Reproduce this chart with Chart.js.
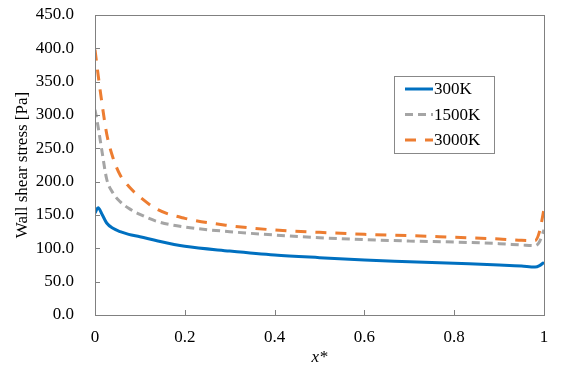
<!DOCTYPE html>
<html>
<head>
<meta charset="utf-8">
<script src="https://cdn.jsdelivr.net/npm/chart.js@4.4.1/dist/chart.umd.min.js"></script>
<style>
  html, body { margin: 0; padding: 0; background: #fff; }
  #wrap { width: 571px; height: 369px; }
</style>
</head>
<body>
<div id="wrap"><canvas id="chart" width="571" height="369"></canvas></div>
<script>
// x* positions shared by all three series
const xStar = [0, 0.007, 0.015, 0.026, 0.04, 0.056, 0.075, 0.1, 0.14, 0.2, 0.3,
    0.4, 0.5, 0.6, 0.7, 0.8, 0.9, 0.95, 0.98, 0.99, 1.0];

// wall shear stress [Pa]
const stress300K = [153, 161, 152, 138, 130, 125, 121, 117.5, 111, 103, 96,
    90, 86, 82.5, 80, 77.5, 75, 73.5, 72, 74, 79];
const stress1500K = [308, 282, 248, 204, 183, 170, 160, 151, 140, 132, 125,
    120, 116, 113, 111, 109.5, 107, 105, 104, 110, 128];
const stress3000K = [398, 360, 320, 272, 236, 210, 193, 177, 158, 145, 134,
    127.5, 124, 121, 119, 116.5, 114, 112, 111.5, 125, 159];

const seriesLabels = ['300K', '1500K', '3000K'];
const xTicks = [0, 0.2, 0.4, 0.6, 0.8, 1];

const FONT = 'Liberation Serif, Times New Roman, serif';
const AXIS = '#808080';

const toPoints = (ys) => xStar.map((x, i) => ({ x, y: ys[i] }));

// frame around the plot, inward tick marks and the boxed legend
const framePlugin = {
    id: 'frame',
    afterDraw(chart) {
        const { ctx, chartArea: a, scales } = chart;
        ctx.save();
        ctx.strokeStyle = AXIS;
        ctx.lineWidth = 1;
        ctx.strokeRect(Math.round(a.left) + 0.5, Math.round(a.top) + 0.5,
            Math.round(a.right - a.left), Math.round(a.bottom - a.top));
        ctx.beginPath();
        scales.y.ticks.forEach((t) => {
            const py = Math.round(scales.y.getPixelForValue(t.value)) + 0.5;
            ctx.moveTo(a.left, py);
            ctx.lineTo(a.left + 5, py);
        });
        xTicks.forEach((v) => {
            const px = Math.round(scales.x.getPixelForValue(v)) + 0.5;
            ctx.moveTo(px, a.bottom);
            ctx.lineTo(px, a.bottom - 5);
        });
        ctx.stroke();

        // legend
        const bx = 394, by = 76, bw = 100, bh = 77;
        ctx.fillStyle = '#fff';
        ctx.fillRect(bx, by, bw, bh);
        ctx.strokeStyle = '#888';
        ctx.strokeRect(bx + 0.5, by + 0.5, bw, bh);
        ctx.font = '17px ' + FONT;
        ctx.textBaseline = 'middle';
        chart.data.datasets.forEach((ds, i) => {
            const ly = 89 + i * 25.5;
            ctx.beginPath();
            ctx.strokeStyle = ds.borderColor;
            ctx.lineWidth = 3;
            ctx.setLineDash(ds.borderDash || []);
            ctx.moveTo(405, ly);
            ctx.lineTo(433, ly);
            ctx.stroke();
            ctx.setLineDash([]);
            ctx.fillStyle = '#000';
            ctx.fillText(ds.label, 434, ly + 1);
        });
        ctx.restore();
    },
};

new Chart(document.getElementById('chart'), {
    type: 'line',
    data: {
        datasets: [
            {
                label: seriesLabels[0],
                data: toPoints(stress300K),
                borderColor: '#0070C0',
                borderWidth: 3,
                cubicInterpolationMode: 'monotone',
            },
            {
                label: seriesLabels[1],
                data: toPoints(stress1500K),
                borderColor: '#A5A5A5',
                borderWidth: 3,
                borderDash: [8, 5],
                cubicInterpolationMode: 'monotone',
            },
            {
                label: seriesLabels[2],
                data: toPoints(stress3000K),
                borderColor: '#ED7D31',
                borderWidth: 3,
                borderDash: [11, 9],
                cubicInterpolationMode: 'monotone',
            },
        ],
    },
    options: {
        responsive: false,
        animation: false,
        devicePixelRatio: 1,
        layout: { padding: { top: 15, right: 27, left: 0, bottom: 0 } },
        elements: { point: { radius: 0 } },
        plugins: { legend: { display: false }, tooltip: { enabled: false } },
        scales: {
            x: {
                type: 'linear',
                min: 0,
                max: 1,
                afterFit: (s) => { s.height = 54; s.paddingLeft = 0; s.paddingRight = 0; },
                afterBuildTicks: (s) => { s.ticks = xTicks.map((v) => ({ value: v })); },
                grid: { display: false, drawTicks: false },
                border: { color: AXIS },
                ticks: {
                    padding: 12,
                    color: '#000',
                    font: { family: FONT, size: 17 },
                    maxRotation: 0,
                    callback: (v) => (v === 0 || v === 1 ? String(v) : v.toFixed(1)),
                },
                title: {
                    display: true,
                    text: 'x*',
                    color: '#000',
                    padding: { top: 0, bottom: 1 },
                    font: { family: FONT, size: 17, style: 'italic' },
                },
            },
            y: {
                min: 0,
                max: 450,
                afterFit: (s) => { s.width = 95; s.paddingTop = 0; s.paddingBottom = 0; },
                grid: { display: false, drawTicks: false },
                border: { color: AXIS },
                ticks: {
                    stepSize: 50,
                    padding: 21,
                    color: '#000',
                    font: { family: FONT, size: 17 },
                    callback: (v) => v.toFixed(1),
                },
                title: {
                    display: true,
                    text: 'Wall shear stress [Pa]',
                    color: '#000',
                    padding: { top: 12, bottom: 0 },
                    font: { family: FONT, size: 17 },
                },
            },
        },
    },
    plugins: [framePlugin],
});
</script>
</body>
</html>
